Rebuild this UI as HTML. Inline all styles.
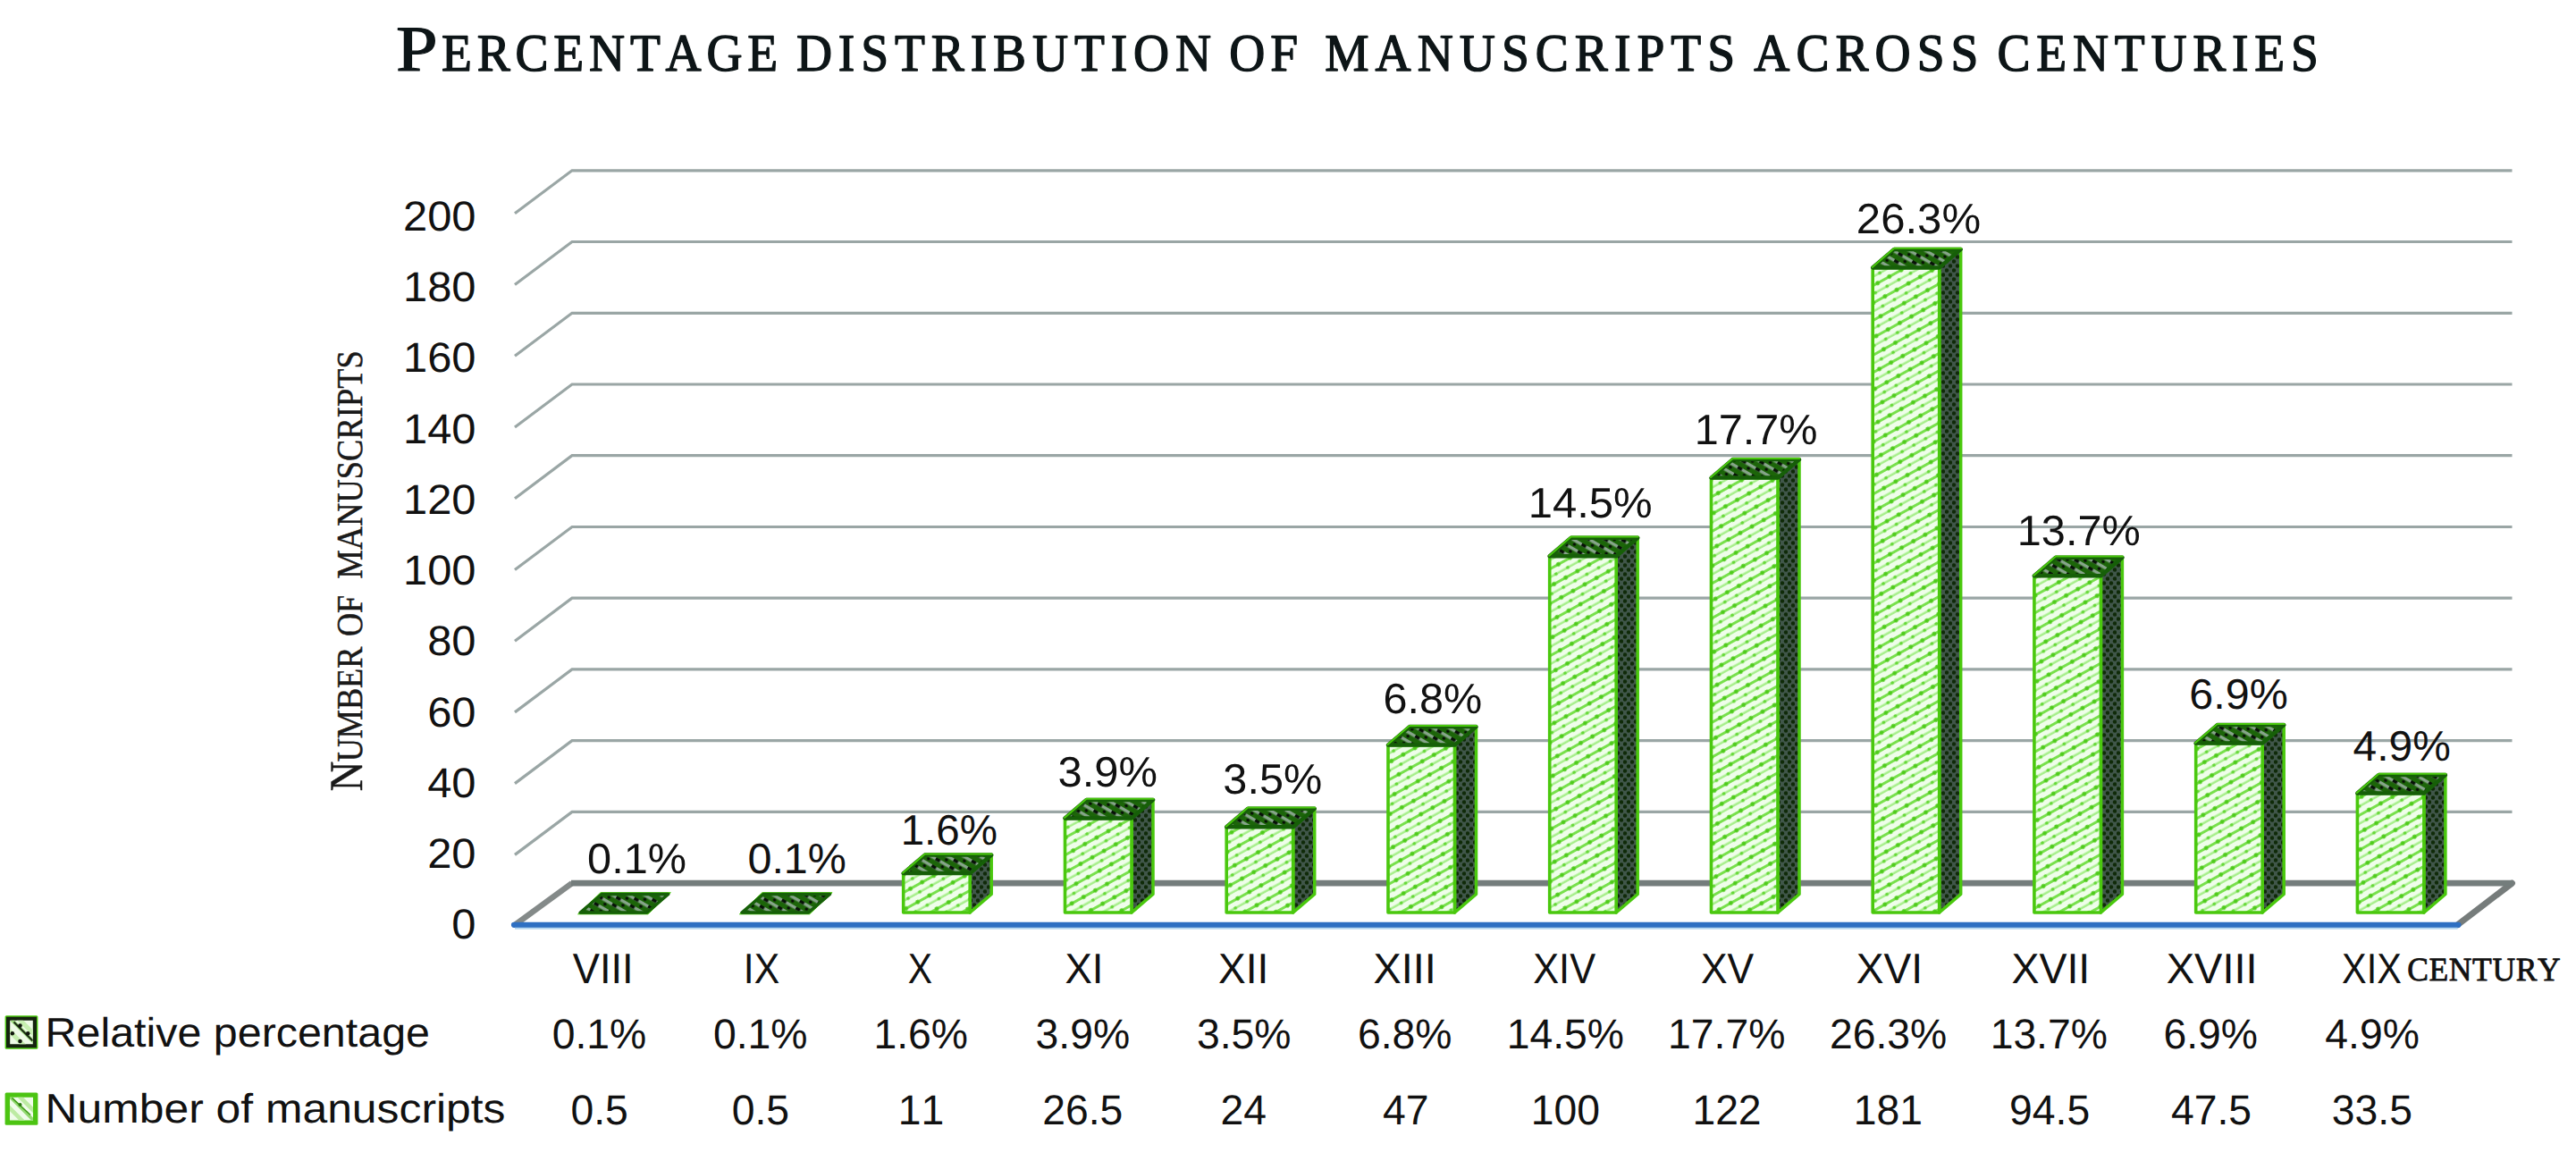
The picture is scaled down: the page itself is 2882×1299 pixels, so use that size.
<!DOCTYPE html>
<html lang="en"><head><meta charset="utf-8"><title>Percentage distribution of manuscripts across centuries</title>
<style>html,body{margin:0;padding:0;background:#fff;overflow:hidden}svg{display:block}</style></head>
<body>
<svg width="2882" height="1299" viewBox="0 0 2882 1299" style="font-kerning:none;text-rendering:geometricPrecision">
<defs>
<pattern id="pf" width="15" height="17" patternUnits="userSpaceOnUse" patternTransform="rotate(-29)">
<rect width="15" height="17" fill="#effeea"/>
<rect y="2" width="15" height="3" fill="#78e04c"/>
<rect y="10.5" width="15" height="2.4" fill="#a3ee86"/>
<circle cx="3.75" cy="3.5" r="2.4" fill="#4fcb1c"/>
<circle cx="11.25" cy="11.7" r="1.9" fill="#66d838"/>
</pattern>
<pattern id="ps" width="8" height="10" patternUnits="userSpaceOnUse">
<rect width="8" height="10" fill="#40564a"/>
<circle cx="2" cy="2.5" r="2.2" fill="#0f2a08"/>
<circle cx="6" cy="7.5" r="2.2" fill="#0f2a08"/>
</pattern>
<pattern id="pt" width="18" height="9" patternUnits="userSpaceOnUse" patternTransform="rotate(30)">
<rect width="18" height="9" fill="#1c6509"/>
<rect y="1" width="18" height="3.4" fill="#86a48a"/>
<rect x="1" y="1" width="5.5" height="3.4" fill="#071008"/>
<circle cx="12" cy="6.8" r="1.8" fill="#050b05"/>
</pattern>
</defs>
<rect width="2882" height="1299" fill="#ffffff"/>
<polyline points="576.0,238.8 640.0,190.8 2810.5,190.8" fill="none" stroke="#9aa6a5" stroke-width="3.2" stroke-linejoin="miter"/>
<polyline points="576.0,318.5 640.0,270.5 2810.5,270.5" fill="none" stroke="#9aa6a5" stroke-width="3.2" stroke-linejoin="miter"/>
<polyline points="576.0,398.3 640.0,350.3 2810.5,350.3" fill="none" stroke="#9aa6a5" stroke-width="3.2" stroke-linejoin="miter"/>
<polyline points="576.0,478.0 640.0,430.0 2810.5,430.0" fill="none" stroke="#9aa6a5" stroke-width="3.2" stroke-linejoin="miter"/>
<polyline points="576.0,557.7 640.0,509.7 2810.5,509.7" fill="none" stroke="#9aa6a5" stroke-width="3.2" stroke-linejoin="miter"/>
<polyline points="576.0,637.5 640.0,589.5 2810.5,589.5" fill="none" stroke="#9aa6a5" stroke-width="3.2" stroke-linejoin="miter"/>
<polyline points="576.0,717.2 640.0,669.2 2810.5,669.2" fill="none" stroke="#9aa6a5" stroke-width="3.2" stroke-linejoin="miter"/>
<polyline points="576.0,796.9 640.0,748.9 2810.5,748.9" fill="none" stroke="#9aa6a5" stroke-width="3.2" stroke-linejoin="miter"/>
<polyline points="576.0,876.6 640.0,828.6 2810.5,828.6" fill="none" stroke="#9aa6a5" stroke-width="3.2" stroke-linejoin="miter"/>
<polyline points="576.0,956.4 640.0,908.4 2810.5,908.4" fill="none" stroke="#9aa6a5" stroke-width="3.2" stroke-linejoin="miter"/>
<polygon points="576.0,1034.8 640.0,988.1000000000001 2810.5,988.1000000000001 2749.5,1034.8" fill="#ffffff" stroke="none"/>
<polyline points="576.0,1034.8 640.0,988.1000000000001" fill="none" stroke="#848a89" stroke-width="6.5" stroke-linecap="butt"/>
<polyline points="2749.5,1034.8 2810.5,988.1000000000001" fill="none" stroke="#767c7b" stroke-width="7" stroke-linecap="round"/>
<line x1="639.0" y1="988.1000000000001" x2="2811.5" y2="988.1000000000001" stroke="#747d7c" stroke-width="6.8"/>
<polygon points="646.6,1022.8 724.9,1022.8 750.3,998.7 672.0,998.7" fill="#4ac80e" stroke="#4ac80e" stroke-width="1" stroke-linejoin="round"/>
<polygon points="649.2,1021.0 723.7,1021.0 747.7,1000.5 673.2,1000.5" fill="url(#pt)" stroke="#165f08" stroke-width="3.4" stroke-linejoin="round"/>
<polygon points="827.4,1022.8 905.7,1022.8 931.1,998.7 852.8,998.7" fill="#4ac80e" stroke="#4ac80e" stroke-width="1" stroke-linejoin="round"/>
<polygon points="830.0,1021.0 904.5,1021.0 928.5,1000.5 854.0,1000.5" fill="url(#pt)" stroke="#165f08" stroke-width="3.4" stroke-linejoin="round"/>
<polygon points="1085.2,977.1 1109.2,956.6 1109.2,1000.5 1085.2,1021.0" fill="url(#ps)" stroke="#4ac80e" stroke-width="3.5" stroke-linejoin="round"/>
<rect x="1010.7" y="977.1" width="74.5" height="43.9" fill="url(#pf)" stroke="#4ac80e" stroke-width="3.6" stroke-linejoin="round"/>
<polygon points="1010.7,977.1 1085.2,977.1 1109.2,956.6 1034.7,956.6" fill="url(#pt)" stroke="#165f08" stroke-width="4.5" stroke-linejoin="round"/>
<polyline points="1010.2,976.6 1034.7,955.4 1109.7,955.4" fill="none" stroke="#4ac80e" stroke-width="2" stroke-linejoin="round" stroke-linecap="round"/>
<polygon points="1266.0,915.4 1290.0,894.9 1290.0,1000.5 1266.0,1021.0" fill="url(#ps)" stroke="#4ac80e" stroke-width="3.5" stroke-linejoin="round"/>
<rect x="1191.5" y="915.4" width="74.5" height="105.6" fill="url(#pf)" stroke="#4ac80e" stroke-width="3.6" stroke-linejoin="round"/>
<polygon points="1191.5,915.4 1266.0,915.4 1290.0,894.9 1215.5,894.9" fill="url(#pt)" stroke="#165f08" stroke-width="4.5" stroke-linejoin="round"/>
<polyline points="1191.0,914.9 1215.5,893.7 1290.5,893.7" fill="none" stroke="#4ac80e" stroke-width="2" stroke-linejoin="round" stroke-linecap="round"/>
<polygon points="1446.7,925.3 1470.7,904.8 1470.7,1000.5 1446.7,1021.0" fill="url(#ps)" stroke="#4ac80e" stroke-width="3.5" stroke-linejoin="round"/>
<rect x="1372.2" y="925.3" width="74.5" height="95.7" fill="url(#pf)" stroke="#4ac80e" stroke-width="3.6" stroke-linejoin="round"/>
<polygon points="1372.2,925.3 1446.7,925.3 1470.7,904.8 1396.2,904.8" fill="url(#pt)" stroke="#165f08" stroke-width="4.5" stroke-linejoin="round"/>
<polyline points="1371.7,924.8 1396.2,903.6 1471.2,903.6" fill="none" stroke="#4ac80e" stroke-width="2" stroke-linejoin="round" stroke-linecap="round"/>
<polygon points="1627.5,833.6 1651.5,813.1 1651.5,1000.5 1627.5,1021.0" fill="url(#ps)" stroke="#4ac80e" stroke-width="3.5" stroke-linejoin="round"/>
<rect x="1553.0" y="833.6" width="74.5" height="187.4" fill="url(#pf)" stroke="#4ac80e" stroke-width="3.6" stroke-linejoin="round"/>
<polygon points="1553.0,833.6 1627.5,833.6 1651.5,813.1 1577.0,813.1" fill="url(#pt)" stroke="#165f08" stroke-width="4.5" stroke-linejoin="round"/>
<polyline points="1552.5,833.1 1577.0,811.9 1652.0,811.9" fill="none" stroke="#4ac80e" stroke-width="2" stroke-linejoin="round" stroke-linecap="round"/>
<polygon points="1808.2,622.3 1832.2,601.8 1832.2,1000.5 1808.2,1021.0" fill="url(#ps)" stroke="#4ac80e" stroke-width="3.5" stroke-linejoin="round"/>
<rect x="1733.7" y="622.3" width="74.5" height="398.7" fill="url(#pf)" stroke="#4ac80e" stroke-width="3.6" stroke-linejoin="round"/>
<polygon points="1733.7,622.3 1808.2,622.3 1832.2,601.8 1757.7,601.8" fill="url(#pt)" stroke="#165f08" stroke-width="4.5" stroke-linejoin="round"/>
<polyline points="1733.2,621.8 1757.7,600.6 1832.7,600.6" fill="none" stroke="#4ac80e" stroke-width="2" stroke-linejoin="round" stroke-linecap="round"/>
<polygon points="1989.0,534.6 2013.0,514.1 2013.0,1000.5 1989.0,1021.0" fill="url(#ps)" stroke="#4ac80e" stroke-width="3.5" stroke-linejoin="round"/>
<rect x="1914.5" y="534.6" width="74.5" height="486.4" fill="url(#pf)" stroke="#4ac80e" stroke-width="3.6" stroke-linejoin="round"/>
<polygon points="1914.5,534.6 1989.0,534.6 2013.0,514.1 1938.5,514.1" fill="url(#pt)" stroke="#165f08" stroke-width="4.5" stroke-linejoin="round"/>
<polyline points="1914.0,534.1 1938.5,512.9 2013.5,512.9" fill="none" stroke="#4ac80e" stroke-width="2" stroke-linejoin="round" stroke-linecap="round"/>
<polygon points="2169.7,299.4 2193.7,278.9 2193.7,1000.5 2169.7,1021.0" fill="url(#ps)" stroke="#4ac80e" stroke-width="3.5" stroke-linejoin="round"/>
<rect x="2095.2" y="299.4" width="74.5" height="721.6" fill="url(#pf)" stroke="#4ac80e" stroke-width="3.6" stroke-linejoin="round"/>
<polygon points="2095.2,299.4 2169.7,299.4 2193.7,278.9 2119.2,278.9" fill="url(#pt)" stroke="#165f08" stroke-width="4.5" stroke-linejoin="round"/>
<polyline points="2094.7,298.9 2119.2,277.7 2194.2,277.7" fill="none" stroke="#4ac80e" stroke-width="2" stroke-linejoin="round" stroke-linecap="round"/>
<polygon points="2350.4,644.3 2374.4,623.8 2374.4,1000.5 2350.4,1021.0" fill="url(#ps)" stroke="#4ac80e" stroke-width="3.5" stroke-linejoin="round"/>
<rect x="2275.9" y="644.3" width="74.5" height="376.7" fill="url(#pf)" stroke="#4ac80e" stroke-width="3.6" stroke-linejoin="round"/>
<polygon points="2275.9,644.3 2350.4,644.3 2374.4,623.8 2299.9,623.8" fill="url(#pt)" stroke="#165f08" stroke-width="4.5" stroke-linejoin="round"/>
<polyline points="2275.4,643.8 2299.9,622.6 2374.9,622.6" fill="none" stroke="#4ac80e" stroke-width="2" stroke-linejoin="round" stroke-linecap="round"/>
<polygon points="2531.2,831.6 2555.2,811.1 2555.2,1000.5 2531.2,1021.0" fill="url(#ps)" stroke="#4ac80e" stroke-width="3.5" stroke-linejoin="round"/>
<rect x="2456.7" y="831.6" width="74.5" height="189.4" fill="url(#pf)" stroke="#4ac80e" stroke-width="3.6" stroke-linejoin="round"/>
<polygon points="2456.7,831.6 2531.2,831.6 2555.2,811.1 2480.7,811.1" fill="url(#pt)" stroke="#165f08" stroke-width="4.5" stroke-linejoin="round"/>
<polyline points="2456.2,831.1 2480.7,809.9 2555.7,809.9" fill="none" stroke="#4ac80e" stroke-width="2" stroke-linejoin="round" stroke-linecap="round"/>
<polygon points="2711.9,887.5 2735.9,867.0 2735.9,1000.5 2711.9,1021.0" fill="url(#ps)" stroke="#4ac80e" stroke-width="3.5" stroke-linejoin="round"/>
<rect x="2637.4" y="887.5" width="74.5" height="133.5" fill="url(#pf)" stroke="#4ac80e" stroke-width="3.6" stroke-linejoin="round"/>
<polygon points="2637.4,887.5 2711.9,887.5 2735.9,867.0 2661.4,867.0" fill="url(#pt)" stroke="#165f08" stroke-width="4.5" stroke-linejoin="round"/>
<polyline points="2636.9,887.0 2661.4,865.8 2736.4,865.8" fill="none" stroke="#4ac80e" stroke-width="2" stroke-linejoin="round" stroke-linecap="round"/>
<line x1="575.0" y1="1034.8" x2="2750.5" y2="1034.8" stroke="#2f70c2" stroke-width="6.2" stroke-linecap="round"/>
<line x1="576.0" y1="1038.7" x2="2749.5" y2="1038.7" stroke="#b5d6ee" stroke-width="2"/>
<g>
<rect x="5.6" y="1136.3" width="36.8" height="37.4" rx="1.5" fill="#4ac80e"/>
<rect x="7" y="1137.7" width="34" height="34.6" fill="#15230f"/>
<clipPath id="c1"><rect x="11.2" y="1141.8" width="25.6" height="26.4"/></clipPath>
<g clip-path="url(#c1)">
<rect x="11" y="1141" width="27" height="28" fill="#eefbe7"/>
<path d="M5,1148 L31,1174 M17,1136 L43,1162" stroke="#c6efb0" stroke-width="5" fill="none"/>
<path d="M13,1141 L39,1167" stroke="#9fdc80" stroke-width="4" fill="none"/>
<path d="M15.5,1143.5 L36.5,1164.5" stroke="#1b2b13" stroke-width="2" fill="none"/>
<circle cx="22.5" cy="1147.6" r="2.3" fill="#0f160b"/><circle cx="13.8" cy="1156.3" r="2.3" fill="#0f160b"/>
<circle cx="31.2" cy="1156.3" r="2.3" fill="#0f160b"/><circle cx="22.5" cy="1165" r="2.3" fill="#0f160b"/>
</g></g>
<g>
<rect x="5.6" y="1222.5" width="36.8" height="36.2" rx="1.5" fill="#4cc412"/>
<clipPath id="c2"><rect x="11" y="1227.8" width="26" height="25.6"/></clipPath>
<g clip-path="url(#c2)">
<rect x="10" y="1227" width="28" height="28" fill="#f0fcea"/>
<path d="M5,1234 L31,1260 M17,1222 L43,1248" stroke="#bdeba3" stroke-width="4.5" fill="none"/>
<path d="M11,1227 L37,1253" stroke="#93d971" stroke-width="3.5" fill="none"/>
<path d="M13.5,1228.5 L34,1247.5" stroke="#3f9a18" stroke-width="1.6" fill="none"/>
<circle cx="22.5" cy="1236" r="2" fill="#2c7a10"/>
</g></g>
<text transform="translate(442.98,78.50) scale(1.1577,1)" font-family='"Liberation Serif", serif' font-size="72.5" fill="#0d1517" stroke="#0d1517" stroke-width="1.2" stroke-linejoin="round">P</text><text transform="translate(0,78.50) scale(0.9400,1)" font-family='"Liberation Serif", serif' fill="#0d1517" stroke="#0d1517" stroke-width="1.4" stroke-linejoin="round"><tspan x="525.64" font-size="84.306" font-variant="small-caps" letter-spacing="6.172">ercentage</tspan> <tspan x="947.77" font-size="84.306" font-variant="small-caps" letter-spacing="7.348">distribution</tspan> <tspan x="1463.11" font-size="84.306" font-variant="small-caps" letter-spacing="6.152">of</tspan> <tspan x="1576.81" font-size="84.306" font-variant="small-caps" letter-spacing="7.512">manuscripts</tspan> <tspan x="2087.62" font-size="84.306" font-variant="small-caps" letter-spacing="7.512">across</tspan> <tspan x="2377.15" font-size="84.306" font-variant="small-caps" letter-spacing="7.205">centuries</tspan></text>
<text transform="translate(450.96,258.00) scale(1.0400,1)" font-family='"Liberation Sans", sans-serif' font-size="47" fill="#111">200</text>
<text transform="translate(450.96,337.23) scale(1.0400,1)" font-family='"Liberation Sans", sans-serif' font-size="47" fill="#111">180</text>
<text transform="translate(450.96,416.46) scale(1.0400,1)" font-family='"Liberation Sans", sans-serif' font-size="47" fill="#111">160</text>
<text transform="translate(450.96,495.69) scale(1.0400,1)" font-family='"Liberation Sans", sans-serif' font-size="47" fill="#111">140</text>
<text transform="translate(450.96,574.92) scale(1.0400,1)" font-family='"Liberation Sans", sans-serif' font-size="47" fill="#111">120</text>
<text transform="translate(450.96,654.15) scale(1.0400,1)" font-family='"Liberation Sans", sans-serif' font-size="47" fill="#111">100</text>
<text transform="translate(478.14,733.38) scale(1.0400,1)" font-family='"Liberation Sans", sans-serif' font-size="47" fill="#111">80</text>
<text transform="translate(478.14,812.61) scale(1.0400,1)" font-family='"Liberation Sans", sans-serif' font-size="47" fill="#111">60</text>
<text transform="translate(478.14,891.84) scale(1.0400,1)" font-family='"Liberation Sans", sans-serif' font-size="47" fill="#111">40</text>
<text transform="translate(478.14,971.07) scale(1.0400,1)" font-family='"Liberation Sans", sans-serif' font-size="47" fill="#111">20</text>
<text transform="translate(505.32,1050.30) scale(1.0400,1)" font-family='"Liberation Sans", sans-serif' font-size="47" fill="#111">0</text>
<text transform="translate(404.80,884.00) rotate(-90) scale(0.8850,1)" font-family='"Liberation Serif", serif' fill="#1a1a1a" stroke="#1a1a1a" stroke-width="0.5" stroke-linejoin="round"><tspan x="-1.51" font-size="52.5">N</tspan><tspan x="35.86" font-size="58.591" font-variant="small-caps" letter-spacing="-0.119">umber</tspan> <tspan x="194.48" font-size="58.591" font-variant="small-caps" letter-spacing="-0.208">of</tspan> <tspan x="267.18" font-size="58.591" font-variant="small-caps" letter-spacing="0.139">manuscripts</tspan></text>
<text transform="translate(640.75,1099.50) scale(0.9523,1)" font-family='"Liberation Sans", sans-serif' font-size="47.5" fill="#111">VIII</text>
<text transform="translate(831.81,1099.50) scale(0.8988,1)" font-family='"Liberation Sans", sans-serif' font-size="47.5" fill="#111">IX</text>
<text transform="translate(1015.83,1099.50) scale(0.8610,1)" font-family='"Liberation Sans", sans-serif' font-size="47.5" fill="#111">X</text>
<text transform="translate(1191.38,1099.50) scale(0.9587,1)" font-family='"Liberation Sans", sans-serif' font-size="47.5" fill="#111">XI</text>
<text transform="translate(1362.97,1099.50) scale(0.9691,1)" font-family='"Liberation Sans", sans-serif' font-size="47.5" fill="#111">XII</text>
<text transform="translate(1536.45,1099.50) scale(0.9875,1)" font-family='"Liberation Sans", sans-serif' font-size="47.5" fill="#111">XIII</text>
<text transform="translate(1715.18,1099.50) scale(0.9125,1)" font-family='"Liberation Sans", sans-serif' font-size="47.5" fill="#111">XIV</text>
<text transform="translate(1902.90,1099.50) scale(0.9341,1)" font-family='"Liberation Sans", sans-serif' font-size="47.5" fill="#111">XV</text>
<text transform="translate(2076.66,1099.50) scale(0.9703,1)" font-family='"Liberation Sans", sans-serif' font-size="47.5" fill="#111">XVI</text>
<text transform="translate(2250.41,1099.50) scale(0.9786,1)" font-family='"Liberation Sans", sans-serif' font-size="47.5" fill="#111">XVII</text>
<text transform="translate(2423.75,1099.50) scale(0.9887,1)" font-family='"Liberation Sans", sans-serif' font-size="47.5" fill="#111">XVIII</text>
<text transform="translate(2620.07,1099.50) scale(0.8725,1)" font-family='"Liberation Sans", sans-serif' font-size="47.5" fill="#111">XIX</text>
<text transform="translate(0,1096.50) scale(0.9600,1)" font-family='"Liberation Serif", serif' fill="#111" stroke="#111" stroke-width="0.8" stroke-linejoin="round"><tspan x="2805.36" font-size="52.877" font-variant="small-caps" letter-spacing="0.664">century</tspan></text>
<text transform="translate(617.66,1173.30) scale(0.9850,1)" font-family='"Liberation Sans", sans-serif' font-size="47" fill="#111">0.1%</text>
<text transform="translate(638.39,1258.40) scale(0.9850,1)" font-family='"Liberation Sans", sans-serif' font-size="47" fill="#111">0.5</text>
<text transform="translate(797.96,1173.30) scale(0.9850,1)" font-family='"Liberation Sans", sans-serif' font-size="47" fill="#111">0.1%</text>
<text transform="translate(818.69,1258.40) scale(0.9850,1)" font-family='"Liberation Sans", sans-serif' font-size="47" fill="#111">0.5</text>
<text transform="translate(977.40,1173.30) scale(0.9850,1)" font-family='"Liberation Sans", sans-serif' font-size="47" fill="#111">1.6%</text>
<text transform="translate(1004.72,1258.40) scale(0.9850,1)" font-family='"Liberation Sans", sans-serif' font-size="47" fill="#111">11</text>
<text transform="translate(1158.58,1173.30) scale(0.9850,1)" font-family='"Liberation Sans", sans-serif' font-size="47" fill="#111">3.9%</text>
<text transform="translate(1166.16,1258.40) scale(0.9850,1)" font-family='"Liberation Sans", sans-serif' font-size="47" fill="#111">26.5</text>
<text transform="translate(1338.88,1173.30) scale(0.9850,1)" font-family='"Liberation Sans", sans-serif' font-size="47" fill="#111">3.5%</text>
<text transform="translate(1365.47,1258.40) scale(0.9850,1)" font-family='"Liberation Sans", sans-serif' font-size="47" fill="#111">24</text>
<text transform="translate(1518.89,1173.30) scale(0.9850,1)" font-family='"Liberation Sans", sans-serif' font-size="47" fill="#111">6.8%</text>
<text transform="translate(1546.89,1258.40) scale(0.9850,1)" font-family='"Liberation Sans", sans-serif' font-size="47" fill="#111">47</text>
<text transform="translate(1685.73,1173.30) scale(0.9850,1)" font-family='"Liberation Sans", sans-serif' font-size="47" fill="#111">14.5%</text>
<text transform="translate(1712.82,1258.40) scale(0.9850,1)" font-family='"Liberation Sans", sans-serif' font-size="47" fill="#111">100</text>
<text transform="translate(1866.03,1173.30) scale(0.9850,1)" font-family='"Liberation Sans", sans-serif' font-size="47" fill="#111">17.7%</text>
<text transform="translate(1893.38,1258.40) scale(0.9850,1)" font-family='"Liberation Sans", sans-serif' font-size="47" fill="#111">122</text>
<text transform="translate(2046.93,1173.30) scale(0.9850,1)" font-family='"Liberation Sans", sans-serif' font-size="47" fill="#111">26.3%</text>
<text transform="translate(2073.65,1258.40) scale(0.9850,1)" font-family='"Liberation Sans", sans-serif' font-size="47" fill="#111">181</text>
<text transform="translate(2226.63,1173.30) scale(0.9850,1)" font-family='"Liberation Sans", sans-serif' font-size="47" fill="#111">13.7%</text>
<text transform="translate(2248.04,1258.40) scale(0.9850,1)" font-family='"Liberation Sans", sans-serif' font-size="47" fill="#111">94.5</text>
<text transform="translate(2420.39,1173.30) scale(0.9850,1)" font-family='"Liberation Sans", sans-serif' font-size="47" fill="#111">6.9%</text>
<text transform="translate(2428.89,1258.40) scale(0.9850,1)" font-family='"Liberation Sans", sans-serif' font-size="47" fill="#111">47.5</text>
<text transform="translate(2601.33,1173.30) scale(0.9850,1)" font-family='"Liberation Sans", sans-serif' font-size="47" fill="#111">4.9%</text>
<text transform="translate(2608.84,1258.40) scale(0.9850,1)" font-family='"Liberation Sans", sans-serif' font-size="47" fill="#111">33.5</text>
<text transform="translate(657.10,977.20) scale(1.0247,1)" font-family='"Liberation Sans", sans-serif' font-size="47.5" fill="#111">0.1%</text>
<text transform="translate(836.41,977.20) scale(1.0208,1)" font-family='"Liberation Sans", sans-serif' font-size="47.5" fill="#111">0.1%</text>
<text transform="translate(1007.68,944.80) scale(1.0004,1)" font-family='"Liberation Sans", sans-serif' font-size="47.5" fill="#111">1.6%</text>
<text transform="translate(1183.54,880.00) scale(1.0290,1)" font-family='"Liberation Sans", sans-serif' font-size="47.5" fill="#111">3.9%</text>
<text transform="translate(1368.35,887.80) scale(1.0232,1)" font-family='"Liberation Sans", sans-serif' font-size="47.5" fill="#111">3.5%</text>
<text transform="translate(1547.53,797.70) scale(1.0225,1)" font-family='"Liberation Sans", sans-serif' font-size="47.5" fill="#111">6.8%</text>
<text transform="translate(1709.67,579.40) scale(1.0319,1)" font-family='"Liberation Sans", sans-serif' font-size="47.5" fill="#111">14.5%</text>
<text transform="translate(1895.70,497.40) scale(1.0234,1)" font-family='"Liberation Sans", sans-serif' font-size="47.5" fill="#111">17.7%</text>
<text transform="translate(2076.83,261.00) scale(1.0337,1)" font-family='"Liberation Sans", sans-serif' font-size="47.5" fill="#111">26.3%</text>
<text transform="translate(2256.79,610.00) scale(1.0242,1)" font-family='"Liberation Sans", sans-serif' font-size="47.5" fill="#111">13.7%</text>
<text transform="translate(2449.34,793.10) scale(1.0196,1)" font-family='"Liberation Sans", sans-serif' font-size="47.5" fill="#111">6.9%</text>
<text transform="translate(2632.60,851.40) scale(1.0077,1)" font-family='"Liberation Sans", sans-serif' font-size="47.5" fill="#111">4.9%</text>
<text transform="translate(50.53,1170.50) scale(1.0520,1)" font-family='"Liberation Sans", sans-serif' font-size="46" fill="#111">Relative percentage</text>
<text transform="translate(50.61,1255.50) scale(1.0828,1)" font-family='"Liberation Sans", sans-serif' font-size="46" fill="#111">Number of manuscripts</text>
</svg>
</body></html>
